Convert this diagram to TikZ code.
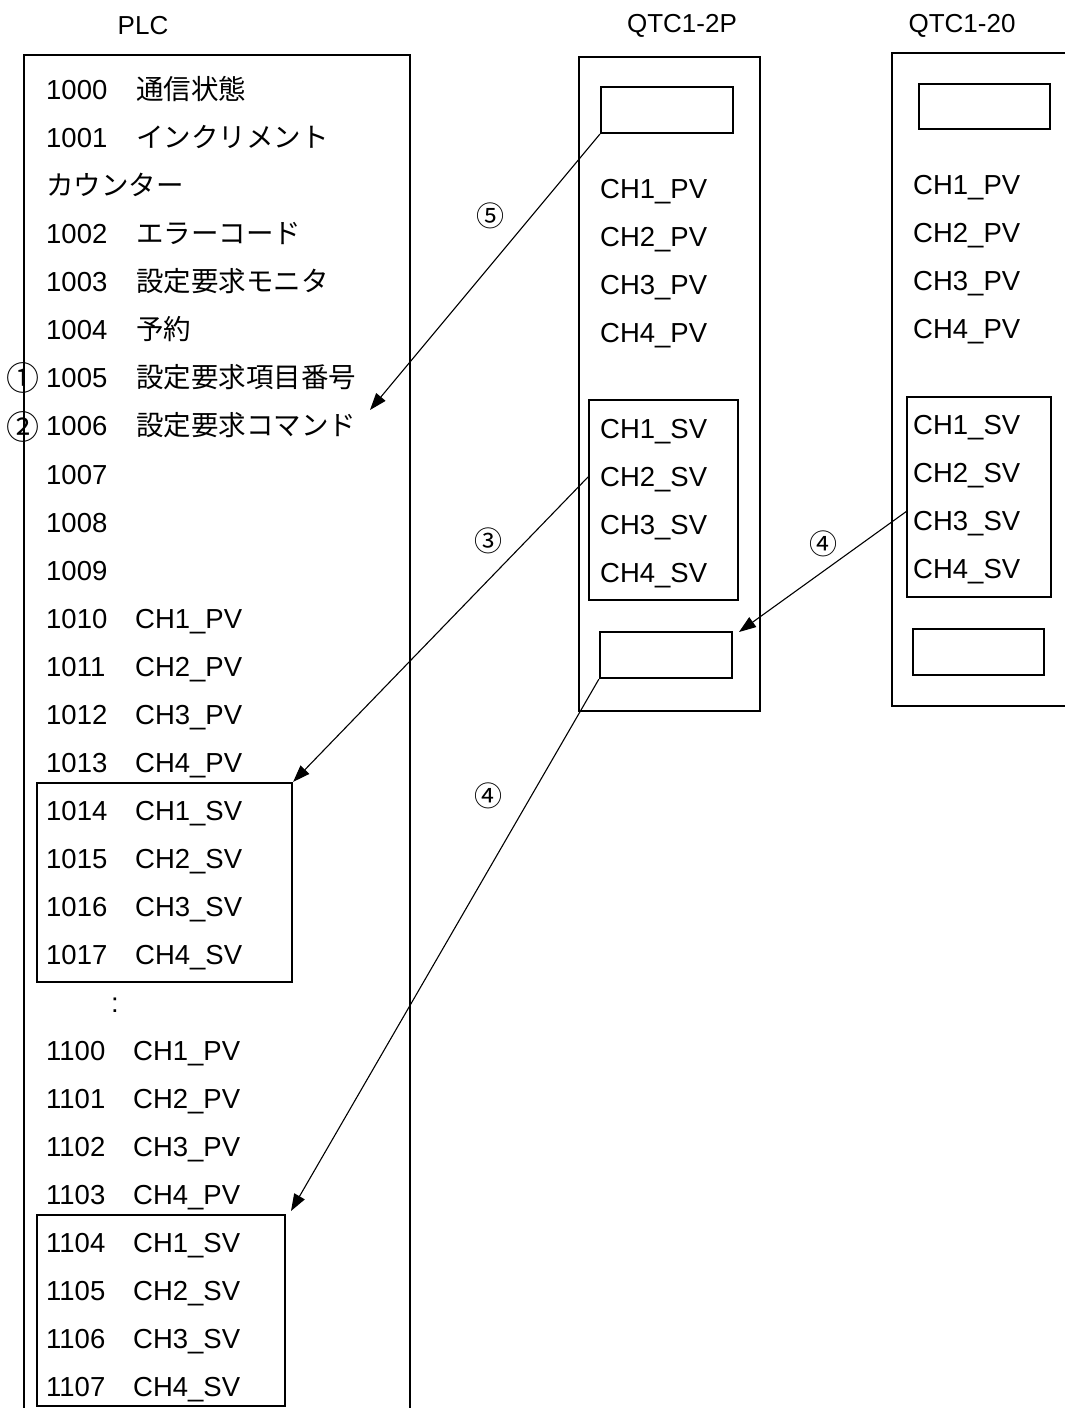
\documentclass[tikz,border=0pt]{standalone}
\usepackage{fontspec}
\setmainfont{Liberation Sans}
\newfontfamily\jpfont{Noto Sans CJK JP}
\usetikzlibrary{arrows.meta}
\newcommand{\bigtxt}{\fontsize{27.5}{30}\selectfont}
\begin{document}
\begin{tikzpicture}[x=1pt,y=-1pt,
  every node/.style={inner sep=0pt},
  lbl/.style={anchor=base west, font=\bigtxt},
  jp/.style={anchor=base west, font=\bigtxt\jpfont},
  ttl/.style={anchor=center, font=\fontsize{26}{28}\selectfont},
  frame/.style={line width=1.6pt},
  ibox/.style={draw, line width=2.2pt, inner sep=0pt},
  arr/.style={line width=1.1pt, -{Triangle[length=17pt,width=12pt]}},
  circ/.style={anchor=center, font=\jpfont\fontsize{28}{30}\selectfont},
  circbig/.style={anchor=center, font=\jpfont\fontsize{33}{35}\selectfont}]
\useasboundingbox (0,0) rectangle (1065,1408);

% titles
\node[ttl] (tplc) at (143,26) {PLC};
\node[ttl] (tq2p) at (682,26) {QTC1-2P};
\node[ttl] (tq20) at (962,26) {QTC1-20};

% frames
\draw[frame] (24,1412) -- (24,55) -- (410,55) -- (410,1412);
\draw[frame] (579,57) rectangle (760,711);
\draw[frame] (1068,53) -- (892,53) -- (892,706) -- (1068,706);

% inner boxes
\node[ibox, minimum width=132pt, minimum height=46pt] (t2p) at (667,110) {};
\node[ibox, minimum width=149pt, minimum height=200pt] (sv2p) at (663.5,500) {};
\node[ibox, minimum width=132pt, minimum height=46pt] (b2p) at (666,655) {};
\node[ibox, minimum width=131pt, minimum height=45pt] (t20) at (984.5,106.5) {};
\node[ibox, minimum width=144pt, minimum height=200pt] (sv20) at (979,497) {};
\node[ibox, minimum width=131pt, minimum height=46pt] (b20) at (978.5,652) {};
\node[ibox, minimum width=255pt, minimum height=199pt] (plcsv1) at (164.5,882.5) {};
\node[ibox, minimum width=248pt, minimum height=191pt] (plcsv2) at (161,1310.5) {};

% PLC texts
\foreach \n/\t [count=\i from 0] in {1000/通信状態, 1001/インクリメント}{
  \node[lbl] (n\n) at (46,{89+48*\i+10}) {\n};
  \node[jp] (l\n) at (136,{89+48*\i+10}) {\t};
}
\node[jp] (lcnt) at (46,195) {カウンター};
\foreach \n/\t [count=\i from 0] in {1002/エラーコード, 1003/設定要求モニタ, 1004/予約, 1005/設定要求項目番号, 1006/設定要求コマンド}{
  \node[lbl] (n\n) at (46,{233+48*\i+10}) {\n};
  \node[jp] (l\n) at (136,{233+48*\i+10}) {\t};
}
\foreach \n [count=\i from 0] in {1007,1008,1009}{
  \node[lbl] (n\n) at (46,{474+48*\i+10}) {\n};
}
\foreach \n/\t [count=\i from 0] in {1010/CH1\_PV, 1011/CH2\_PV, 1012/CH3\_PV, 1013/CH4\_PV, 1014/CH1\_SV, 1015/CH2\_SV, 1016/CH3\_SV, 1017/CH4\_SV}{
  \node[lbl] (n\n) at (46,{618+48*\i+10}) {\n};
  \node[lbl] (l\n) at (135,{618+48*\i+10}) {\t};
}
\node[lbl] (dots) at (111,1012) {:};
\foreach \n/\t [count=\i from 0] in {1100/CH1\_PV, 1101/CH2\_PV, 1102/CH3\_PV, 1103/CH4\_PV, 1104/CH1\_SV, 1105/CH2\_SV, 1106/CH3\_SV, 1107/CH4\_SV}{
  \node[lbl] (n\n) at (46,{1050+48*\i+10}) {\n};
  \node[lbl] (l\n) at (133,{1050+48*\i+10}) {\t};
}

% QTC1-2P texts
\foreach \t [count=\i from 0] in {CH1\_PV, CH2\_PV, CH3\_PV, CH4\_PV}{
  \node[lbl] (qa\i) at (600,{188+48*\i+10}) {\t};
}
\foreach \t [count=\i from 0] in {CH1\_SV, CH2\_SV, CH3\_SV, CH4\_SV}{
  \node[lbl] (qb\i) at (600,{428+48*\i+10}) {\t};
}
% QTC1-20 texts
\foreach \t [count=\i from 0] in {CH1\_PV, CH2\_PV, CH3\_PV, CH4\_PV}{
  \node[lbl] (ra\i) at (913,{184+48*\i+10}) {\t};
}
\foreach \t [count=\i from 0] in {CH1\_SV, CH2\_SV, CH3\_SV, CH4\_SV}{
  \node[lbl] (rb\i) at (913,{424+48*\i+10}) {\t};
}

% circled numbers
\node[circbig] (c1) at (23,378) {①};
\node[circbig] (c2) at (23,427) {②};
\node[circ] (c5) at (490,216) {⑤};
\node[circ] (c3) at (488,541) {③};
\node[circ] (c4a) at (823,544) {④};
\node[circ] (c4b) at (488,796) {④};

% arrows
\coordinate (p5) at (370,410);
\coordinate (s3) at (589,476);
\coordinate (s4) at (907,511);
\coordinate (p4) at (739,632);
\coordinate (p4b) at (291,1211);
\draw[arr] (t2p.south west) -- (p5);
\draw[arr] (s3) -- (plcsv1.north east);
\draw[arr] (s4) -- (p4);
\draw[arr] (b2p.south west) -- (p4b);
\end{tikzpicture}
\end{document}
